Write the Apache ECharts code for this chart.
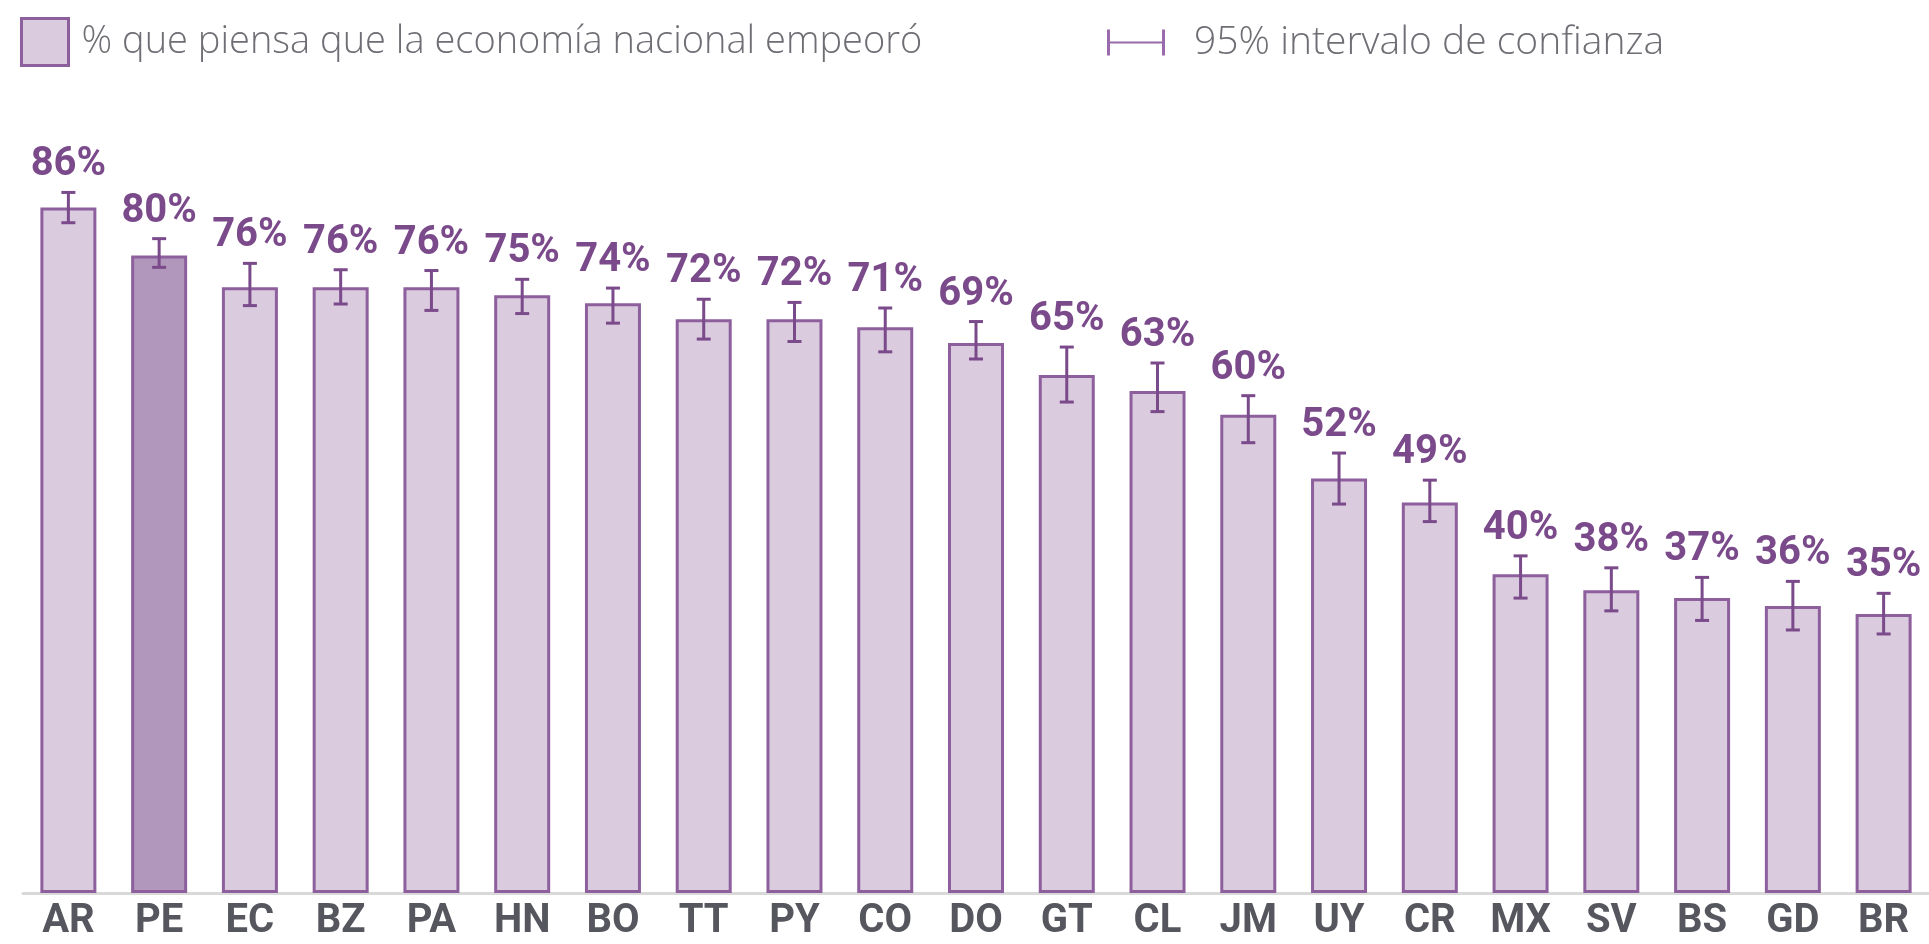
<!DOCTYPE html>
<html><head><meta charset="utf-8">
<script src="https://cdn.jsdelivr.net/npm/echarts@6/dist/echarts.min.js"></script>
<style>html,body{margin:0;padding:0;background:#fff}#c{width:1929px;height:944px}</style>
</head><body><div id="c"></div>
<script>
var categories = ['AR','PE','EC','BZ','PA','HN','BO','TT','PY','CO','DO','GT','CL','JM','UY','CR','MX','SV','BS','GD','BR'];
var values = [86,80,76,76,76,75,74,72,72,71,69,65,63,60,52,49,40,38,37,36,35];
var ciLow  = [84.1,78.5,73.7,73.9,73.1,72.7,71.5,69.5,69.2,67.9,67.0,61.6,60.4,56.5,48.8,46.6,37.0,35.4,34.2,33.0,32.5];
var ciHigh = [87.9,82.1,79.0,78.2,78.1,77.0,75.9,74.5,74.1,73.4,71.7,68.5,66.5,62.4,55.2,51.8,42.3,40.8,39.6,39.1,37.6];
var highlight = ['PE'];
var barName = '% que piensa que la economía nacional empeoró';
var ciName = '95% intervalo de confianza';

var C_FILL = '#dacbdf', C_FILL_HI = '#b197bb', C_EDGE = '#8d5f9d', C_DARK = '#7a4a8b';

var chart = echarts.init(document.getElementById('c'));
var barData = values.map(function(v,i){
  return {value:v, itemStyle:{color: highlight.indexOf(categories[i])>=0 ? C_FILL_HI : C_FILL}};
});
var ciData = categories.map(function(c,i){ return [i, ciLow[i], ciHigh[i], values[i]]; });

chart.setOption({
  animation:false,
  legend:[{
    data:[barName], left:15, top:12, itemWidth:47, itemHeight:47, itemGap:0,
    icon:'rect',
    itemStyle:{color:C_FILL, borderColor:C_EDGE, borderWidth:3},
    textStyle:{fontFamily:'Open Sans', fontWeight:300, fontSize:38, color:'#6e6e74', padding:[0,0,0,8]}
  },{
    data:[ciName], left:1102, top:18, itemWidth:58, itemHeight:26, itemGap:0,
    icon:'path://M0,0H3V26H0Z M3,12H55V14H3Z M55,0H58V26H55Z',
    itemStyle:{color:'#9a6aac'},
    textStyle:{fontFamily:'Open Sans', fontWeight:300, fontSize:39, color:'#6e6e74', padding:[0,0,0,24]}
  }],
  grid:{left:23, right:-3, top:96, bottom:51},
  xAxis:{
    type:'category', data:categories, boundaryGap:true,
    axisLine:{lineStyle:{color:'#d9d9d9', width:3}},
    axisTick:{show:false},
    axisLabel:{fontFamily:'Roboto', fontWeight:'bold', fontSize:40, color:'#56575e', margin:9}
  },
  yAxis:{type:'value', min:0, max:100, show:false, splitLine:{show:false}},
  series:[{
    name:barName, type:'bar', data:barData, barWidth:56,
    itemStyle:{borderColor:C_EDGE, borderWidth:3},
    z:2
  },{
    name:ciName, type:'custom', data:ciData, z:3,
    itemStyle:{color:C_DARK},
    encode:{x:0, y:[1,2]},
    renderItem:function(params, api){
      var x = api.value(0);
      var lo = api.coord([x, api.value(1)]);
      var hi = api.coord([x, api.value(2)]);
      var cap = 7;
      var st = {stroke:C_DARK, lineWidth:3};
      return {type:'group', children:[
        {type:'line', shape:{x1:lo[0], y1:lo[1], x2:hi[0], y2:hi[1]}, style:st},
        {type:'line', shape:{x1:lo[0]-cap, y1:lo[1], x2:lo[0]+cap, y2:lo[1]}, style:st},
        {type:'line', shape:{x1:hi[0]-cap, y1:hi[1], x2:hi[0]+cap, y2:hi[1]}, style:st},
        {type:'text', x:hi[0], y:hi[1]-7, style:{
          text: api.value(3)+'%', align:'center', verticalAlign:'bottom',
          fontFamily:'Roboto', fontWeight:'bold', fontSize:40, fill:C_DARK}}
      ]};
    }
  }]
});
</script></body></html>
